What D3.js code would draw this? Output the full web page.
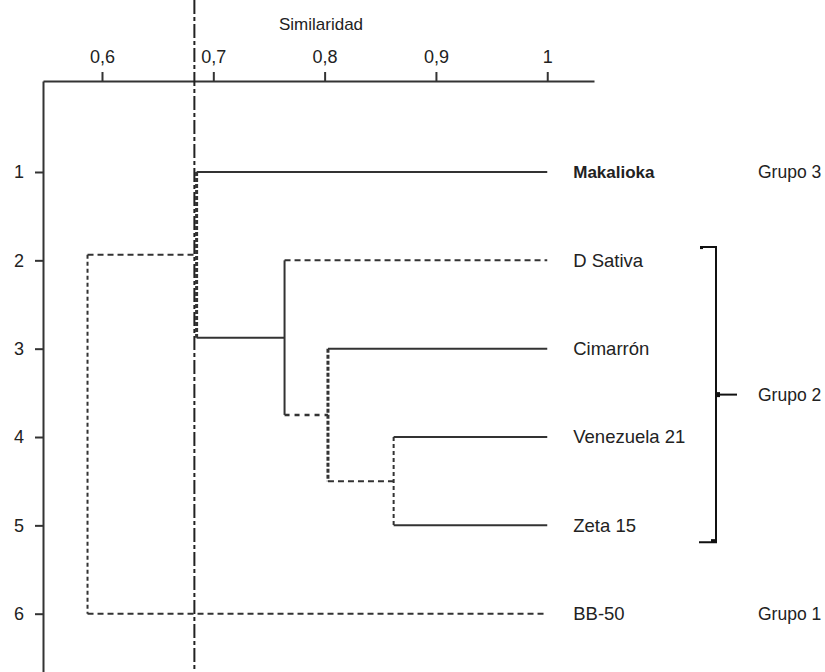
<!DOCTYPE html>
<html>
<head>
<meta charset="utf-8">
<script src="https://cdn.jsdelivr.net/npm/d3@7"></script>
<style>
  body { margin: 0; background: #fff; }
  text { font-family: "Liberation Sans", Arial, sans-serif; fill: #222; }
</style>
</head>
<body>
<svg id="chart"></svg>
<script>
// Leaves of the dendrogram, top to bottom
const leafNames = ["Makalioka", "D Sativa", "Cimarrón", "Venezuela 21", "Zeta 15", "BB-50"];
const leafRows = [1, 2, 3, 4, 5, 6];

// Merge nodes: children (leaf or merge names) and similarity level
const mergeNames = ["A", "B", "C", "D", "E"];
const mergeLeft = ["Venezuela 21", "Cimarrón", "D Sativa", "Makalioka", "D"];
const mergeRight = ["Zeta 15", "A", "B", "C", "BB-50"];
const mergeSim = [0.862, 0.803, 0.764, 0.685, 0.587];

// Cut line and axis ticks
const cutSim = 0.683;
const simTicks = [0.6, 0.7, 0.8, 0.9, 1];
const rowTicks = [1, 2, 3, 4, 5, 6];

// Groups at the right
const groupNames = ["Grupo 3", "Grupo 2", "Grupo 1"];
const groupFirst = [1, 2, 6];
const groupLast = [1, 5, 6];

const width = 825, height = 672;
const svg = d3.select("#chart").attr("width", width).attr("height", height);

const x = d3.scaleLinear().domain([0.547, 1.042]).range([43, 594]);
const y = d3.scaleLinear().domain([-0.03, 6.66]).range([81, 672]);

// line styles
const styles = {
  solid:  { w: 2,   dash: null },
  dashed: { w: 2,   dash: "6,4" },
  dashB:  { w: 2.6, dash: "5,5" },
  dotted: { w: 2,   dash: "4,3" },
  dotBig: { w: 3,   dash: "4,2" }
};
const hStyle = {
  "Makalioka": "solid", "D Sativa": "dashed", "Cimarrón": "solid",
  "Venezuela 21": "solid", "Zeta 15": "solid", "BB-50": "dashed",
  A: "dashed", B: "dashB", C: "solid", D: "dashed"
};
const vStyle = { A: "dotted", B: "dotBig", C: "solid", D: "dotBig", E: "dotted" };

// build node table
const nodes = {};
leafNames.forEach((n, i) => { nodes[n] = { name: n, sim: 1, row: leafRows[i], leaf: true }; });
mergeNames.forEach((n, i) => {
  const l = nodes[mergeLeft[i]], r = nodes[mergeRight[i]];
  nodes[n] = { name: n, sim: mergeSim[i], row: (l.row + r.row) / 2, left: l, right: r };
  l.parent = nodes[n];
  r.parent = nodes[n];
});

const lineColor = "#333";

function seg(g, x1, y1, x2, y2, st) {
  const s = styles[st];
  g.append("line")
    .attr("x1", x1).attr("y1", y1).attr("x2", x2).attr("y2", y2)
    .attr("stroke", lineColor)
    .attr("stroke-width", s.w)
    .attr("stroke-dasharray", s.dash);
}

// axes
const xAxis = svg.append("g")
  .attr("transform", `translate(0,${y(-0.03)})`)
  .call(d3.axisTop(x).tickValues(simTicks).tickSize(9).tickSizeOuter(0).tickPadding(9)
    .tickFormat(d => d3.format("")(d).replace(".", ",")));
const yAxis = svg.append("g")
  .attr("transform", `translate(${x(0.547)},0)`)
  .call(d3.axisLeft(y).tickValues(rowTicks).tickSize(8).tickSizeOuter(0).tickPadding(11)
    .tickFormat(d3.format("d")));

[xAxis, yAxis].forEach(a => {
  a.select(".domain").attr("stroke", "#333").attr("stroke-width", 2);
  a.selectAll(".tick line").attr("stroke", "#333").attr("stroke-width", 2);
  a.selectAll(".tick text").style("font-size", "18px").attr("fill", "#222")
    .style("font-family", '"Liberation Sans", Arial, sans-serif');
});

svg.append("text")
  .attr("x", 321).attr("y", 30)
  .attr("text-anchor", "middle")
  .style("font-size", "17px")
  .text("Similaridad");

// dendrogram
const dg = svg.append("g");
Object.values(nodes).forEach(n => {
  if (n.parent) {
    seg(dg, x(n.parent.sim), y(n.row), x(n.sim), y(n.row), hStyle[n.name]);
  }
  if (!n.leaf) {
    seg(dg, x(n.sim), y(n.left.row), x(n.sim), y(n.right.row), vStyle[n.name]);
  }
});

// cut line
svg.append("line")
  .attr("x1", x(cutSim)).attr("x2", x(cutSim))
  .attr("y1", 0).attr("y2", height)
  .attr("stroke", "#222").attr("stroke-width", 2)
  .attr("stroke-dasharray", "14,3,4,3");

// leaf labels
svg.append("g").selectAll("text")
  .data(leafNames)
  .join("text")
  .attr("x", x(1) + 26)
  .attr("y", (d, i) => y(leafRows[i]))
  .attr("dy", "0.35em")
  .style("font-size", (d, i) => i === 0 ? "17px" : "18.5px")
  .style("font-weight", (d, i) => i === 0 ? "bold" : null)
  .text(d => d);

// groups
const gg = svg.append("g");
groupNames.forEach((name, i) => {
  let mid = groupFirst[i];
  if (groupLast[i] > groupFirst[i]) {
    const top = y(groupFirst[i] - 0.15), bot = y(groupLast[i] + 0.19);
    mid = (groupFirst[i] - 0.15 + groupLast[i] + 0.19) / 2;
    const bx = 716;
    gg.append("path")
      .attr("d", `M${bx - 16},${top}H${bx}V${bot}H${bx - 17}`)
      .attr("fill", "none").attr("stroke", "#111").attr("stroke-width", 2);
    gg.append("line")
      .attr("x1", bx).attr("x2", bx + 21)
      .attr("y1", y(mid)).attr("y2", y(mid))
      .attr("stroke", "#111").attr("stroke-width", 2);
    gg.append("rect").attr("x", bx - 1).attr("y", y(mid) - 2.5).attr("width", 5).attr("height", 5).attr("fill", "#111");
    gg.append("rect").attr("x", bx - 5).attr("y", bot - 3).attr("width", 4).attr("height", 3).attr("fill", "#111");
    gg.append("rect").attr("x", bx - 16).attr("y", top - 1).attr("width", 3).attr("height", 3).attr("fill", "#111");
  }
  gg.append("text")
    .attr("x", 758).attr("y", y(mid))
    .attr("dy", "0.35em")
    .style("font-size", "17.5px")
    .text(name);
});
</script>
</body>
</html>
